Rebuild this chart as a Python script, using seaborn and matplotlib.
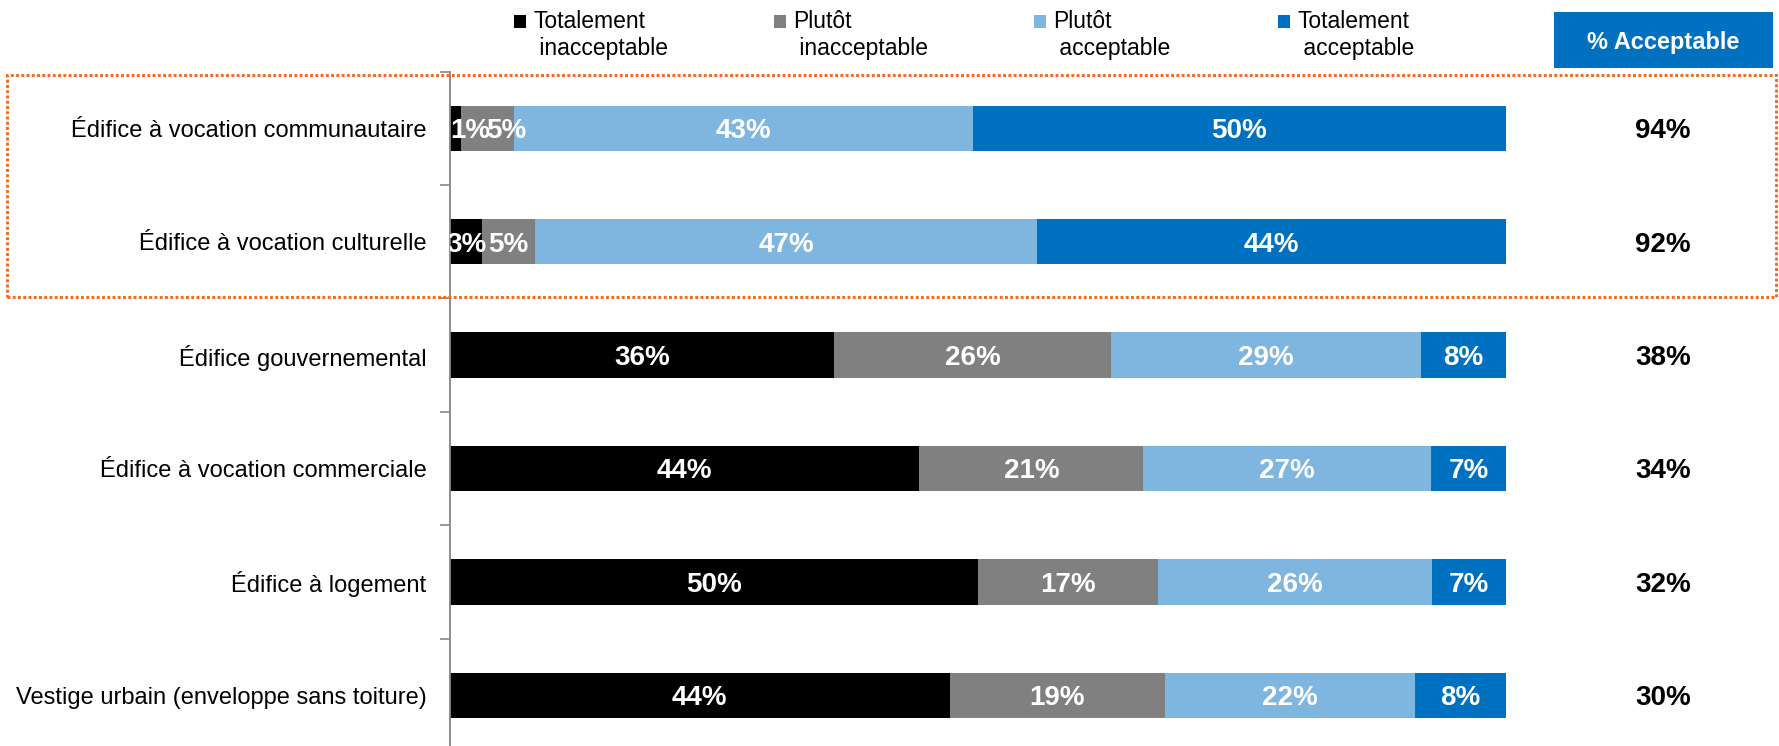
import matplotlib
matplotlib.use("Agg")
import matplotlib.pyplot as plt
import seaborn as sns
import numpy as np
import pandas as pd
from matplotlib.patches import Rectangle
from matplotlib.transforms import blended_transform_factory

# ---------------- data ----------------
categories = [
    "Édifice à vocation communautaire",
    "Édifice à vocation culturelle",
    "Édifice gouvernemental",
    "Édifice à vocation commerciale",
    "Édifice à logement",
    "Vestige urbain (enveloppe sans toiture)",
]
series_names = ["Totalement\n inacceptable", "Plutôt\n inacceptable",
                "Plutôt\n acceptable", "Totalement\n acceptable"]
totalement_inacceptable = [1, 3, 36, 44, 50, 44]
plutot_inacceptable = [5, 5, 26, 21, 17, 19]
plutot_acceptable = [43, 47, 29, 27, 26, 22]
totalement_acceptable = [50, 44, 8, 7, 7, 8]
pct_acceptable = [94, 92, 38, 34, 32, 30]
header_label = "% Acceptable"

colors = ["#000000", "#808080", "#7FB6E0", "#0070C0"]

# ---------------- style ----------------
sns.set_theme(style="white")
plt.rcParams["font.family"] = ["Liberation Sans", "DejaVu Sans"]

W, H = 1779, 746
fig = plt.figure(figsize=(W / 100, H / 100), dpi=100)
fig.patch.set_facecolor("white")
ax = fig.add_axes([450 / W, 1 - 752 / H, (1506 - 450) / W, (752 - 71.5) / H])

series = [totalement_inacceptable, plutot_inacceptable, plutot_acceptable, totalement_acceptable]
vals = np.array(series, dtype=float)
shares = vals / vals.sum(axis=0) * 100
cum = np.cumsum(shares, axis=0)

# layered cumulative bars (draw the longest first)
for k in range(3, -1, -1):
    df = pd.DataFrame({"cat": categories, "v": cum[k]})
    sns.barplot(data=df, x="v", y="cat", orient="h", color=colors[k],
                saturation=1, width=0.4, errorbar=None, linewidth=0, ax=ax)

ax.set_xlim(0, 100)
ax.set_ylim(len(categories) - 0.5, -0.5)
ax.set_xlabel("")
ax.set_ylabel("")
ax.set_xticks([])
for s in ["top", "right", "bottom"]:
    ax.spines[s].set_visible(False)
ax.spines["left"].set_color("#868686")
ax.spines["left"].set_linewidth(1.3)
ax.set_yticks(np.arange(-0.5, len(categories), 1), minor=True)
ax.tick_params(axis="y", which="major", left=False, length=0, pad=17,
               labelsize=17, labelcolor="black")
ax.tick_params(axis="y", which="minor", left=True, length=7, width=1.2,
               color="#868686", direction="out")

# segment labels (Excel-like: tiny first segment label anchored at the axis,
# the following label pushed just right of it)
renderer = fig.canvas.get_renderer()
to_data = ax.transData.inverted()
for i in range(len(categories)):
    prev_right = None
    for k in range(4):
        start = cum[k][i] - shares[k][i]
        lab = f"{series[k][i]}%"
        kw = dict(va="center_baseline", color="white", fontsize=20,
                  fontweight="bold", clip_on=True)
        if k == 0 and shares[k][i] < 2:
            t = ax.text(0, i, lab, ha="left", **kw)
            bb = t.get_window_extent(renderer)
            prev_right = to_data.transform((bb.x1 - 4, 0))[0]
        elif prev_right is not None:
            ax.text(prev_right, i, lab, ha="left", **kw)
            prev_right = None
        else:
            ax.text(start + shares[k][i] / 2, i, lab, ha="center", **kw)

# right column: % acceptable
trans = blended_transform_factory(fig.transFigure, ax.transData)
for i, v in enumerate(pct_acceptable):
    ax.text(1663 / W, i, f"{v}%", transform=trans, ha="center",
            va="center_baseline", fontsize=20, fontweight="bold",
            color="black", clip_on=False)

# header box
fig.add_artist(Rectangle((1554 / W, 1 - 68 / H), 219 / W, 56 / H,
                         transform=fig.transFigure, facecolor="#0070C0",
                         edgecolor="none"))
fig.text((1554 + 1773) / 2 / W, 1 - 40 / H, header_label, ha="center",
         va="center_baseline", color="white", fontsize=17, fontweight="bold")

# orange dotted highlight box
fig.add_artist(Rectangle((7 / W, 1 - 297 / H), (1776 - 7) / W, (297 - 75) / H,
                         transform=fig.transFigure, fill=False,
                         edgecolor="#F26B1D", linewidth=2.1,
                         linestyle=(0, (1, 0.8))))

# legend (manual)
legend_x = [514, 774, 1034, 1278]
for xs, name, c in zip(legend_x, series_names, colors):
    fig.add_artist(Rectangle((xs / W, 1 - 28 / H), 12 / W, 13 / H,
                             transform=fig.transFigure, facecolor=c,
                             edgecolor="none"))
    fig.text((xs + 19) / W, 1 - 10 / H, name, ha="left", va="top",
             fontsize=16.5, color="black", linespacing=1.25)

fig.savefig("out.png", dpi=100, facecolor="white")
